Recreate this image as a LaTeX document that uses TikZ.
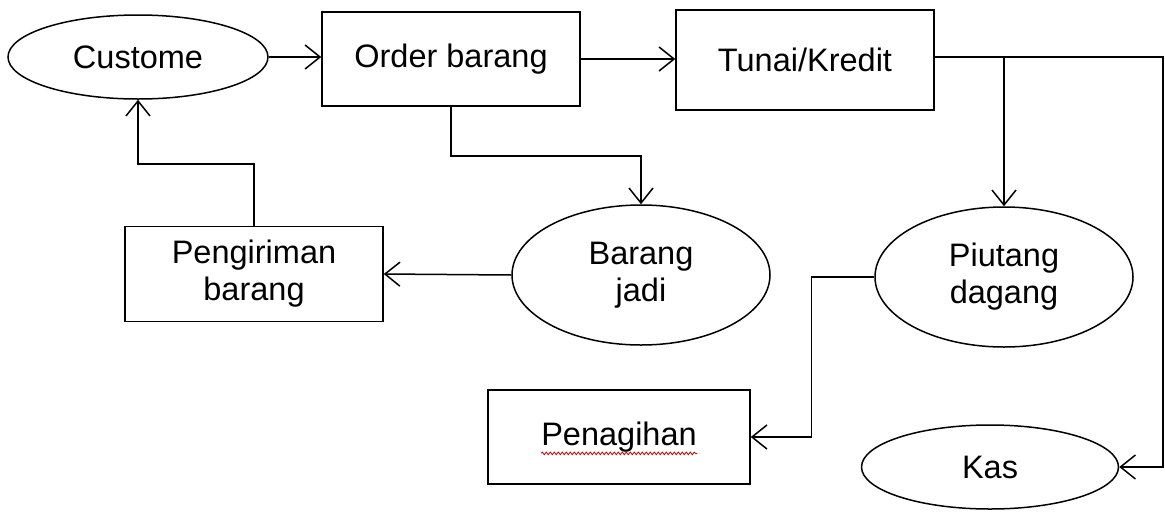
\documentclass[tikz,border=0pt]{standalone}
\usepackage{fontspec}
\setmainfont{Liberation Sans}
\usetikzlibrary{calc, shapes.geometric, arrows.meta, decorations.pathmorphing}

\begin{document}
\begin{tikzpicture}[x=1pt, y=-1pt, line width=1.5pt,
  font=\fontsize{32.5}{37}\selectfont,
  kotak/.style={draw, rectangle, align=center, inner sep=0pt},
  elips/.style={draw, ellipse, align=center, inner sep=0pt},
  panah/.style={-{Straight Barb[length=15pt, width=24pt, line width=1.5pt]}}]
  \useasboundingbox (0,0) rectangle (1165,517);
  % simpul
  \node[elips, minimum width=260pt, minimum height=84pt] (cust) at (138,57) {Custome};
  \node[kotak, minimum width=258pt, minimum height=94pt] (order) at (451,59) {Order barang};
  \node[kotak, minimum width=258pt, minimum height=100pt] (tunai) at (805,60) {Tunai/Kredit};
  \node[elips, minimum width=258pt, minimum height=140pt] (jadi) at (641,275) {Barang\\jadi};
  \node[elips, minimum width=258pt, minimum height=140pt] (piutang) at (1004,277) {Piutang\\dagang};
  \node[kotak, minimum width=258pt, minimum height=95pt] (kirim) at (254,274) {Pengiriman\\barang};
  \node[kotak, minimum width=262pt, minimum height=94pt] (tagih) at (619,437) {Penagihan};
  \node[elips, minimum width=257pt, minimum height=84pt] (kas) at (990,467) {Kas};
  \coordinate (sudut) at (1163,57);
  % garis
  \draw[panah] (cust.east) -- (cust.east -| order.west);
  \draw[panah] (order.east) -- (order.east -| tunai.west);
  \draw[panah] (tunai.east |- sudut) -- (sudut) |- (kas.east);
  \draw[panah] (piutang.north |- sudut) -- (piutang.north);
  \draw[panah] (order.south) -- ++(0,49) -| (jadi.north);
  \draw[panah] (jadi.west) -- (kirim.east);
  \draw[panah] (kirim.north) -- ++(0,-62) -| (cust.south);
  \draw[panah] (piutang.west) -- ++(-63,0) |- (tagih.east);
  % garis bergelombang merah di bawah Penagihan
  \draw[red!75!black, line width=0.8pt, decorate,
    decoration={snake, amplitude=1.3pt, segment length=4pt}]
    ($(tagih.base)+(-78,8)$) -- ($(tagih.base)+(78,8)$);
\end{tikzpicture}
\end{document}
